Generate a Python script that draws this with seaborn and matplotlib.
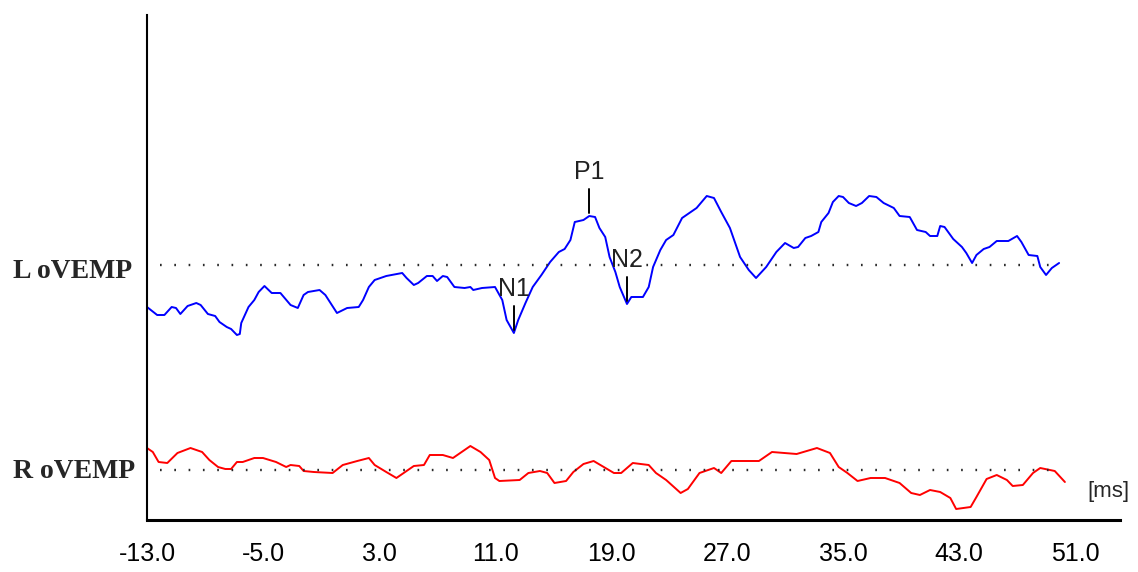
import numpy as np
import matplotlib
matplotlib.use("Agg")
import matplotlib.pyplot as plt
import seaborn as sns
import pandas as pd
from matplotlib import font_manager

# ---------------- data ----------------
left_t = [-13.0, -12.3, -11.8, -11.3, -11.0, -10.7, -10.2, -9.6, -9.3, -8.8, -8.3, -8.0, -7.5, -7.2,
          -6.8, -6.6, -6.5, -6.0, -5.6, -5.3, -4.9, -4.4, -3.8, -3.1, -2.6, -2.2, -1.9, -1.1, -0.7,
          0.1, 0.8, 1.6, 1.9, 2.3, 2.7, 3.5, 4.6, 4.9, 5.4, 5.7, 6.3, 6.7, 7.0, 7.4, 7.7, 8.2, 8.9,
          9.3, 9.5, 10.1, 11.0, 11.5, 11.8, 12.3, 12.6, 13.1, 13.6, 14.2, 14.8, 15.4, 15.8, 16.2,
          16.5, 17.1, 17.5, 17.9, 18.2, 18.6, 18.9, 19.3, 19.6, 20.1, 20.4, 21.2, 21.6, 21.9, 22.4,
          22.8, 23.3, 23.9, 24.2, 24.9, 25.6, 26.1, 26.6, 27.2, 27.9, 28.5, 29.0, 29.7, 30.4, 31.0,
          31.6, 31.9, 32.4, 32.8, 33.3, 33.5, 34.0, 34.3, 34.7, 35.0, 35.4, 35.9, 36.3, 36.8, 37.3,
          37.8, 38.5, 38.9, 39.6, 40.1, 40.7, 41.0, 41.5, 41.7, 42.0, 42.6, 43.2, 43.5, 43.9, 44.2,
          44.7, 45.1, 45.6, 46.4, 47.0, 47.3, 47.8, 48.4, 48.6, 49.0, 49.4, 49.9]
left_amp = [-42, -50, -50, -42, -43, -49, -41, -38, -40, -49, -51, -57, -62, -64,
            -70, -69, -58, -42, -35, -27, -21, -28, -28, -40, -43, -30, -27, -25, -30,
            -48, -43, -42, -35, -22, -15, -11, -8, -13, -20, -18, -11, -11, -16, -11, -12, -22, -23,
            -22, -25, -23, -22, -35, -55, -68, -55, -38, -22, -10, 3, 13, 16, 25,
            43, 45, 49, 48, 37, 28, 8, -7, -22, -39, -32, -32, -22, -2, 15,
            25, 30, 47, 50, 57, 69, 67, 53, 37, 8, -5, -13, -2, 13, 22,
            17, 18, 27, 29, 33, 43, 52, 63, 69, 68, 62, 59, 62, 69, 68,
            62, 57, 49, 48, 35, 33, 29, 29, 39, 38, 26, 18, 12, 2, 10,
            16, 18, 24, 24, 29, 23, 10, 9, -2, -10, -3, 2]

right_t = [-13.0, -12.6, -12.2, -11.6, -10.9, -10.0, -9.2, -8.7, -8.1, -7.6, -7.2, -6.8, -6.4, -5.6,
           -5.0, -4.1, -3.4, -3.1, -2.5, -2.2, -1.5, -0.2, 0.5, 1.5, 2.3, 2.7, 3.5, 4.2, 4.8, 5.4,
           6.1, 6.5, 7.4, 8.1, 8.7, 9.3, 10.0, 10.6, 11.0, 11.3, 12.7, 13.3, 14.1, 14.6, 15.1, 15.9,
           16.4, 17.1, 17.8, 18.5, 19.2, 19.7, 20.5, 21.6, 22.1, 22.8, 23.8, 24.3, 25.1, 26.1, 26.6,
           27.3, 29.2, 30.1, 31.8, 32.5, 33.2, 34.1, 34.7, 35.3, 36.0, 36.9, 37.9, 38.9, 39.7, 40.3,
           41.0, 41.7, 42.4, 42.8, 43.8, 44.2, 44.9, 45.6, 46.3, 46.7, 47.4, 48.1, 48.6, 49.6, 50.3]
right_amp = [22, 18, 8, 7, 17, 22, 18, 10, 3, 1, 1, 8, 8, 12,
             12, 8, 3, 5, 4, -1, -2, -3, 5, 9, 12, 5, -2, -8, -2, 4,
             5, 15, 15, 12, 18, 24, 18, 10, -8, -11, -10, -3, -1, -3, -13, -11,
             -2, 6, 9, 3, -3, -3, 7, 5, -3, -10, -23, -19, -3, 2, -3,
             9, 9, 18, 16, 19, 22, 17, 3, -3, -11, -8, -8, -13, -23, -25,
             -20, -22, -28, -39, -37, -27, -9, -5, -10, -16, -15, -3, 2, -1, -12]

trace_names = ["L oVEMP", "R oVEMP"]
trace_colors = ["#0000FF", "#FF0000"]
peak_names = ["N1", "P1", "N2"]
peak_lat = [12.3, 17.5, 20.1]
x_ticks = [-13, -5, 3, 11, 19, 27, 35, 43, 51]
x_tick_labels = ["-13.0", "-5.0", "3.0", "11.0", "19.0", "27.0", "35.0", "43.0", "51.0"]
unit_label = "[ms]"

# ---------------- layout constants ----------------
W, H = 1138, 572
offsets = [255, 50]        # vertical placement of each trace baseline
baseline_span = (-12.1, 49.8)

sns.set_style("white")
plt.rcParams["lines.scale_dashes"] = False

names = {f.name for f in font_manager.fontManager.ttflist}
if "Liberation Sans Narrow" in names:
    sans, sans_size = "Liberation Sans Narrow", 20
else:
    sans, sans_size = "Liberation Sans", 18
plt.rcParams["font.family"] = [sans, "DejaVu Sans"]

fig = plt.figure(figsize=(W / 100, H / 100), dpi=100)
ax = fig.add_axes([147 / W, 1 - 520 / H, (1120 - 147) / W, (520 - 15) / H])

frames = []
for name, t, a, off in zip(trace_names, [left_t, right_t], [left_amp, right_amp], offsets):
    frames.append(pd.DataFrame({"t": t, "y": np.array(a, dtype=float) + off, "trace": name}))
df = pd.concat(frames, ignore_index=True)

sns.lineplot(data=df, x="t", y="y", hue="trace", palette=dict(zip(trace_names, trace_colors)),
             sort=False, estimator=None, linewidth=1.4, legend=False, ax=ax)

# dotted baselines
for off in offsets:
    ax.plot(baseline_span, [off, off], color="#2a2a2a", lw=1.7, linestyle=(0, (1.2, 9.1)))

# peak markers on left trace
for nm, lat in zip(peak_names, peak_lat):
    amp = np.interp(lat, left_t, left_amp) + offsets[0]
    ax.plot([lat, lat], [amp + 3, amp + 27], color="black", lw=1.4)
    ax.text(lat, amp + 44, nm, ha="center", va="center", fontsize=sans_size, color="#222222")

ax.set_xlim(-13, 54.1)
ax.set_ylim(0, 505)
ax.set_xticks(x_ticks)
ax.set_xticklabels(x_tick_labels, fontsize=sans_size)
ax.set_yticks([])
ax.set_xlabel("")
ax.set_ylabel("")
ax.tick_params(axis="x", direction="inout", length=9, width=1.3, pad=11, colors="black")
for s in ["top", "right"]:
    ax.spines[s].set_visible(False)
ax.spines["bottom"].set_linewidth(2.2)
ax.spines["left"].set_linewidth(1.5)
ax.spines["bottom"].set_color("black")
ax.spines["left"].set_color("black")

# channel labels
fig.text(13 / W, 1 - 272 / H, trace_names[0], ha="left", va="center",
         family=["Liberation Serif", "DejaVu Serif"], weight="bold", fontsize=20)
fig.text(13 / W, 1 - 471 / H, trace_names[1], ha="left", va="center",
         family=["Liberation Serif", "DejaVu Serif"], weight="bold", fontsize=20)
fig.text(1108 / W, 1 - 492 / H, unit_label, ha="center", va="center", fontsize=sans_size - 2)

fig.savefig("out.png", dpi=100, facecolor="white")
